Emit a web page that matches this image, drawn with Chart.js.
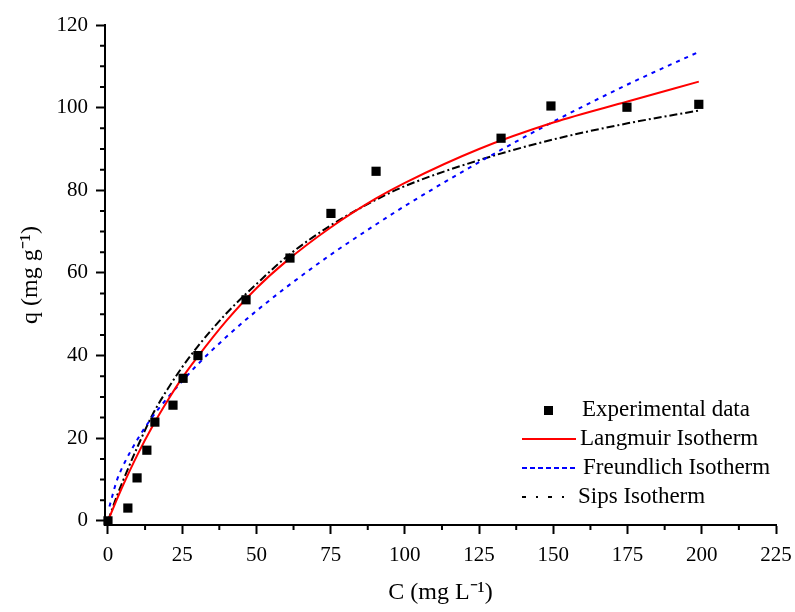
<!DOCTYPE html>
<html>
<head>
<meta charset="utf-8">
<script src="https://cdn.jsdelivr.net/npm/chart.js@4.4.1/dist/chart.umd.min.js"></script>
<style>
  html, body { margin: 0; padding: 0; background: #fff; }
  #wrap { width: 795px; height: 612px; }
</style>
</head>
<body>
<div id="wrap"><canvas id="isoChart" width="795" height="612"></canvas></div>
<script>
// experimental points
const expC = [0, 6.7, 9.8, 13.1, 15.8, 21.9, 25.3, 30.3, 46.5, 61.3, 75.1, 90.3, 132.4, 149.2, 174.8, 199];
const expQ = [0, 3.1, 10.4, 17.1, 23.9, 28, 34.5, 40, 53.5, 63.6, 74.4, 84.6, 92.6, 100.4, 100.1, 100.8];

// fitted curves
const curveC = [0, 3, 5, 10, 15, 20, 25, 30, 40, 50, 60, 75, 90, 100, 125, 150, 175, 199];
const langQ  = [0, 5.2, 8.5, 16.1, 22.9, 29.0, 34.6, 39.5, 48.5, 56.3, 62.8, 71.0, 77.9, 81.8, 90.0, 96.4, 101.5, 106.3];
const sipsQ  = [0, 6.0, 9.6, 18.0, 25.7, 31.8, 37.2, 42.0, 50.3, 57.3, 63.8, 71.5, 77.6, 81.0, 87.3, 92.3, 96.2, 99.3];
const freuC  = [0.5, 3, 5, 10, 15, 20, 25, 30, 40, 50, 60, 75, 90, 100, 125, 150, 175, 199];
const freuQ  = [3.5, 9.8, 13.2, 19.8, 25.2, 29.7, 33.8, 37.7, 44.6, 50.8, 56.5, 64.4, 71.6, 76.2, 86.8, 96.6, 105.6, 113.5];

const xTicks = [0, 25, 50, 75, 100, 125, 150, 175, 200, 225];
const yTicks = [0, 20, 40, 60, 80, 100, 120];
const xMinor = [12.5, 37.5, 62.5, 87.5, 112.5, 137.5, 162.5, 187.5, 212.5];
const yMinor = [5, 10, 15, 25, 30, 35, 45, 50, 55, 65, 70, 75, 85, 90, 95, 105, 110, 115];

const pts = (xs, ys) => xs.map((x, i) => ({ x, y: ys[i] }));
const serif = '"Liberation Serif", "Times New Roman", serif';

// minor ticks, shorter than the major ones
const minorTicks = {
  id: 'minorTicks',
  afterDraw(chart) {
    const { ctx, scales: { x, y } } = chart;
    ctx.save();
    ctx.strokeStyle = '#000';
    ctx.lineWidth = 2;
    ctx.beginPath();
    xMinor.forEach(v => {
      const px = x.getPixelForValue(v);
      ctx.moveTo(px, x.top); ctx.lineTo(px, x.top + 5);
    });
    yMinor.forEach(v => {
      const py = y.getPixelForValue(v);
      ctx.moveTo(y.right, py); ctx.lineTo(y.right - 5, py);
    });
    ctx.stroke();
    ctx.restore();
  }
};

// legend inside the plot, bottom right
const innerLegend = {
  id: 'innerLegend',
  afterDraw(chart) {
    const { ctx, chartArea } = chart;
    const x0 = chartArea.right - 254, y0 = chartArea.bottom - 115, row = 29;
    ctx.save();
    ctx.font = '23px ' + serif;
    ctx.textBaseline = 'middle';
    chart.data.datasets.forEach((ds, i) => {
      const yy = y0 + i * row;
      ctx.fillStyle = '#000';
      if (ds.showLine === false) {
        ctx.fillRect(x0 + 22, yy - 4, 9, 9);
      } else {
        ctx.beginPath();
        ctx.strokeStyle = ds.borderColor;
        ctx.lineWidth = ds.borderWidth;
        ctx.setLineDash(ds.legendDash || []);
        ctx.moveTo(x0, yy); ctx.lineTo(x0 + ds.legendLen, yy);
        ctx.stroke();
        ctx.setLineDash([]);
      }
      ctx.fillText(ds.label, x0 + ds.textAt, yy);
    });
    ctx.restore();
  }
};

new Chart(document.getElementById('isoChart'), {
  type: 'scatter',
  data: {
    datasets: [
      { label: 'Experimental data', data: pts(expC, expQ), showLine: false, textAt: 60,
        pointStyle: 'rect', pointRadius: 6.5, pointHoverRadius: 6.5,
        backgroundColor: '#000', borderColor: '#000', borderWidth: 0, clip: false, order: 0 },
      { label: 'Langmuir Isotherm', data: pts(curveC, langQ), showLine: true, textAt: 58, legendLen: 54,
        borderColor: '#ff0000', borderWidth: 2, pointRadius: 0, cubicInterpolationMode: 'monotone', order: 1 },
      { label: 'Freundlich Isotherm', data: pts(freuC, freuQ), showLine: true, textAt: 61, legendLen: 54, legendDash: [5, 3],
        borderColor: '#0000ff', borderWidth: 2, borderDash: [4, 5], pointRadius: 0, cubicInterpolationMode: 'monotone', order: 2 },
      { label: 'Sips Isotherm', data: pts(curveC, sipsQ), showLine: true, textAt: 56, legendLen: 48, legendDash: [4, 10, 2, 10],
        borderColor: '#000', borderWidth: 2, borderDash: [8, 3, 2, 3], pointRadius: 0, cubicInterpolationMode: 'monotone', order: 3 }
    ]
  },
  options: {
    responsive: false,
    animation: false,
    layout: { padding: { top: 25, right: 19, left: 0, bottom: 0 } },
    plugins: { legend: { display: false }, tooltip: { enabled: false } },
    scales: {
      x: {
        type: 'linear', min: -1, max: 225,
        afterBuildTicks: s => { s.ticks = xTicks.map(v => ({ value: v })); },
        afterFit: s => { s.height = 87; s.paddingLeft = 0; s.paddingRight = 0; },
        grid: { drawOnChartArea: false, tickLength: 9, tickWidth: 2, tickColor: '#000' },
        border: { color: '#000', width: 2 },
        ticks: { color: '#000', font: { family: serif, size: 21 }, padding: 9, maxRotation: 0 },
        title: { display: true, text: 'C (mg L\u207B\u00B9)', color: '#000', font: { family: serif, size: 24 }, padding: { top: 0, bottom: 5 } }
      },
      y: {
        type: 'linear', min: -1, max: 120,
        afterBuildTicks: s => { s.ticks = yTicks.map(v => ({ value: v })); },
        afterFit: s => { s.width = 105; s.paddingTop = 0; s.paddingBottom = 0; },
        grid: { drawOnChartArea: false, tickLength: 9, tickWidth: 2, tickColor: '#000' },
        border: { color: '#000', width: 2 },
        ticks: { color: '#000', font: { family: serif, size: 21 }, padding: 8 },
        title: { display: true, text: 'q (mg g\u207B\u00B9)', color: '#000', font: { family: serif, size: 24 }, padding: { top: 16, bottom: 0 } }
      }
    }
  },
  plugins: [minorTicks, innerLegend]
});
</script>
</body>
</html>
